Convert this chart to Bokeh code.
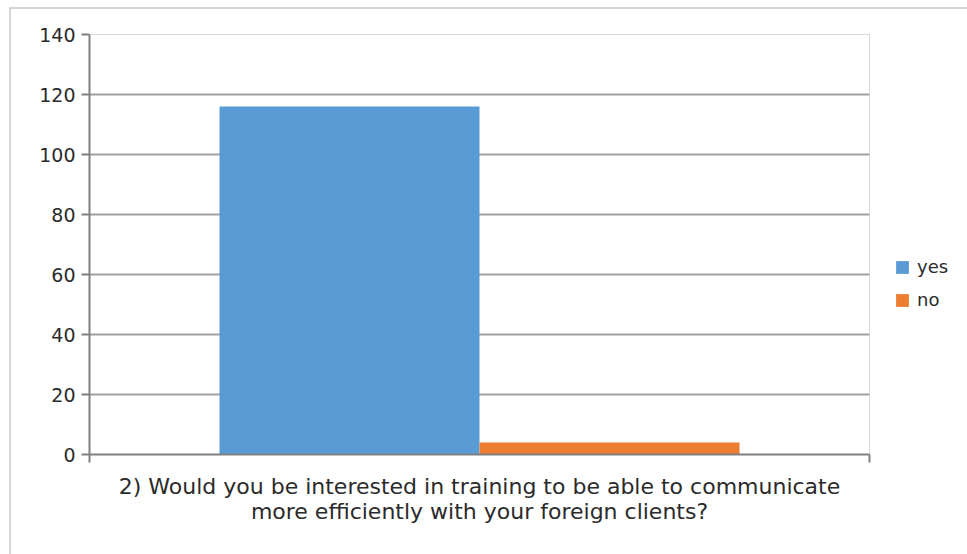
from bokeh.plotting import figure
from bokeh.models import (ColumnDataSource, Range1d, LinearAxis, FixedTicker,
                          Legend, LegendItem)
from bokeh.embed import file_html
from bokeh.resources import INLINE

categories = ["2) Would you be interested in training to be able to communicate\nmore efficiently with your foreign clients?"]
series_names = ["yes", "no"]
yes_values = [116]
no_values = [4]
y_ticks = [0, 20, 40, 60, 80, 100, 120, 140]

FONT = "DejaVu Sans"
TXT = "#2b2b2b"

n = len(categories)
centers = [i + 0.5 for i in range(n)]
bar_w = 1 / 3
src = ColumnDataSource(dict(
    x_yes=[c - bar_w / 2 for c in centers],
    x_no=[c + bar_w / 2 for c in centers],
    yes=yes_values, no=no_values))

p = figure(x_range=Range1d(0, n), y_range=Range1d(0, 140),
           frame_width=780, frame_height=420,
           min_border_left=78, min_border_top=25, min_border_right=98, min_border_bottom=100,
           output_backend="svg", toolbar_location=None, x_axis_location=None)
p.styles = {"border-top": "2px solid #d6d6d6", "border-left": "2px solid #d6d6d6",
            "margin-left": "9px", "margin-top": "7px"}
p.background_fill_color = "white"
p.outline_line_color = "#d9d9d9"
p.outline_line_width = 1

r_yes = p.vbar(x="x_yes", top="yes", width=bar_w, source=src,
               fill_color="#5b9bd5", line_color=None)
r_no = p.vbar(x="x_no", top="no", width=bar_w, source=src,
              fill_color="#ed7d31", line_color=None)

# y axis
p.yaxis.ticker = FixedTicker(ticks=y_ticks)
p.yaxis.axis_line_color = "#808080"
p.yaxis.axis_line_width = 2
p.yaxis.major_tick_line_color = "#808080"
p.yaxis.major_tick_line_width = 2
p.yaxis.major_tick_out = 8
p.yaxis.major_tick_in = 0
p.yaxis.minor_tick_line_color = None
p.yaxis.major_label_text_font = FONT
p.yaxis.major_label_text_font_size = "19px"
p.yaxis.major_label_text_color = TXT
p.yaxis.major_label_standoff = 6

p.ygrid.ticker = FixedTicker(ticks=y_ticks)
p.ygrid.grid_line_color = "#a0a0a0"
p.ygrid.grid_line_width = 2
p.xgrid.grid_line_color = None

# boundary ticks axis
edges = list(range(n + 1))
edge_axis = LinearAxis(ticker=FixedTicker(ticks=edges),
                       major_label_overrides={e: "" for e in edges},
                       major_label_text_font_size="1px",
                       major_tick_out=8, major_tick_in=0,
                       major_tick_line_color="#808080", major_tick_line_width=2,
                       minor_tick_line_color=None,
                       axis_line_color="#808080", axis_line_width=2,
                       major_label_standoff=0)
p.add_layout(edge_axis, "below")

cat_axis = LinearAxis(ticker=FixedTicker(ticks=centers),
                      major_label_overrides={c: lab for c, lab in zip(centers, categories)},
                      axis_line_color=None, major_tick_line_color=None,
                      minor_tick_line_color=None,
                      major_label_text_font=FONT, major_label_text_font_size="22px",
                      major_label_text_line_height=1.0,
                      major_label_text_color=TXT, major_label_standoff=5)
p.add_layout(cat_axis, "below")

legend = Legend(items=[LegendItem(label=series_names[0], renderers=[r_yes]),
                       LegendItem(label=series_names[1], renderers=[r_no])],
                location=(25, 144), margin=0, padding=10, spacing=12,
                glyph_width=16, glyph_height=16, label_height=20, label_standoff=7,
                label_text_font=FONT, label_text_font_size="18px", label_text_color=TXT,
                border_line_color=None, background_fill_alpha=0)
p.add_layout(legend, "right")

open("out.html", "w").write(file_html(p, INLINE))
